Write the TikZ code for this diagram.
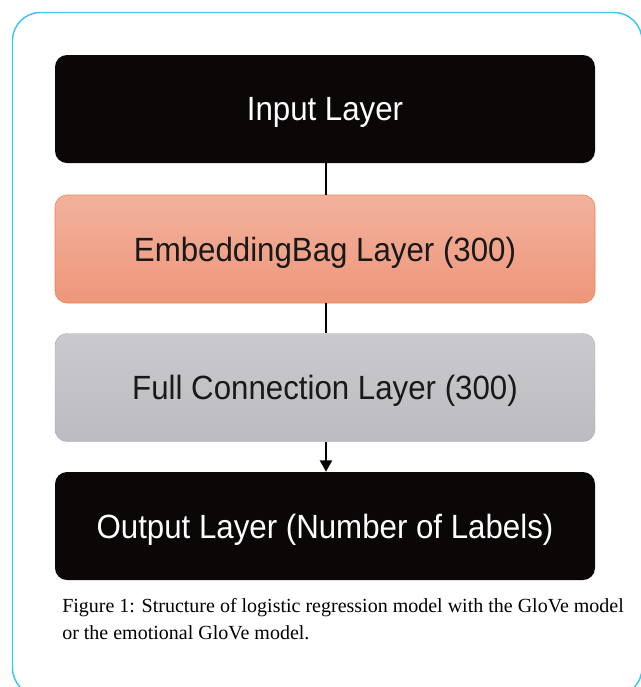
\documentclass[tikz,border=0pt]{standalone}
\usepackage{fontspec}
\usepackage{graphicx}
\setmainfont{Liberation Serif}
\newfontfamily\boxfont{Liberation Sans}
\usetikzlibrary{arrows.meta}
\definecolor{framecyan}{HTML}{3CC6F0}
\definecolor{boxblack}{HTML}{0A0706}
\definecolor{salmontop}{HTML}{F2B19D}
\definecolor{salmonbot}{HTML}{EE977A}
\definecolor{salmonedge}{HTML}{E8844E}
\definecolor{greytop}{HTML}{CACACE}
\definecolor{greybot}{HTML}{BCBCC0}
\definecolor{greyedge}{HTML}{A9A9AE}
% slightly narrowed sans label used inside the layer boxes
\newcommand{\layerlabel}[1]{\scalebox{0.93}[1]{#1}}
\tikzset{
  layerbox/.style={rounded corners=9pt, minimum width=405pt, minimum height=81pt,
    inner sep=0pt, text depth=0pt, font=\boxfont\fontsize{25.2}{30}\selectfont},
  darkbox/.style={layerbox, fill=boxblack, text=white},
  salmonbox/.style={layerbox, top color=salmontop, bottom color=salmonbot,
    draw=salmonedge, line width=0.4pt, text=black!90},
  greybox/.style={layerbox, top color=greytop, bottom color=greybot,
    draw=greyedge, line width=0.3pt, text=black!90},
  link/.style={line width=1.7pt, draw=black},
  caption/.style={anchor=base west, inner sep=0pt, font=\fontsize{15}{20}\selectfont}
}
\begin{document}
\begin{tikzpicture}[x=0.75pt, y=-0.75pt]
  \useasboundingbox (0,0) rectangle (641,687);
  \begin{scope}
    \clip (0,0) rectangle (641,687);
    % outer rounded frame, partly running off the page
    \draw[framecyan, line width=1.1pt, rounded corners=21pt] (12.5,12.5) rectangle (642,696);
  \end{scope}

  % layer stack
  \node[darkbox]   (inp) at (325,109) {\layerlabel{Input Layer}};
  \node[salmonbox] (emb) at (325,249) {\layerlabel{EmbeddingBag Layer (300)}};
  \node[greybox]   (fc)  at (325,387.5) {\layerlabel{Full Connection Layer (300)}};
  \node[darkbox]   (out) at (325,526) {\layerlabel{Output Layer (Number of Labels)}};

  % connectors
  \draw[link] (inp.south -| 326,0) -- (emb.north -| 326,0);
  \draw[link] (emb.south -| 326,0) -- (fc.north -| 326,0);
  \draw[link, -{Triangle[width=9pt,length=8.5pt]}] (fc.south -| 326,0) -- (out.north -| 326,0);

  % caption
  \node[caption] (cap1) at (62,612) {Figure 1: Structure of logistic regression model with the GloVe model};
  \node[caption] (cap2) at (62,639) {or the emotional GloVe model.};
\end{tikzpicture}
\end{document}
